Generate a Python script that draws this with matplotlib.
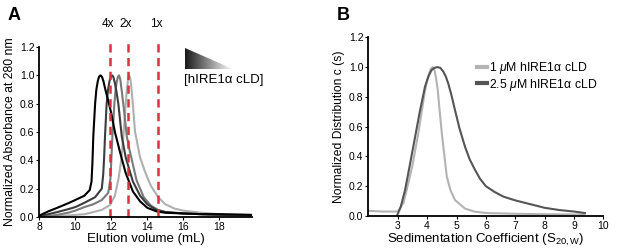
import numpy as np
import matplotlib
matplotlib.use('Agg')
import matplotlib.pyplot as plt
from matplotlib.patches import Polygon

plt.rcParams['font.family'] = ['Liberation Sans', 'DejaVu Sans']
plt.rcParams['mathtext.fontset'] = 'custom'
plt.rcParams['mathtext.rm'] = 'Liberation Sans'
plt.rcParams['mathtext.it'] = 'Liberation Sans:italic'

# panel A: size exclusion traces, highest to lowest concentration
black_x = [8.0, 8.5, 9.0, 9.6, 10.0, 10.5, 10.8, 10.9, 10.95, 11.0, 11.1, 11.17, 11.25, 11.32, 11.4,
           11.48, 11.56, 11.65, 11.87, 12.0, 12.2, 12.5, 12.8, 13.2, 13.6, 14.0, 14.5, 15.0, 16.0,
           17.0, 18.0, 19.8]
black_y = [0.01, 0.04, 0.065, 0.097, 0.12, 0.15, 0.19, 0.25, 0.38, 0.57, 0.8, 0.9, 0.96, 0.99, 1.0,
           0.99, 0.96, 0.91, 0.8, 0.73, 0.6, 0.45, 0.31, 0.18, 0.11, 0.065, 0.04, 0.03, 0.025,
           0.02, 0.02, 0.015]
dark_x = [8.0, 8.5, 9.0, 9.6, 10.0, 10.5, 11.1, 11.47, 11.55, 11.6, 11.65, 11.74, 11.82, 11.9, 11.97,
          12.04, 12.11, 12.19, 12.28, 12.39, 12.58, 12.8, 13.2, 13.6, 14.0, 14.5, 15.0, 16.0, 17.0,
          18.0, 19.8]
dark_y = [0.005, 0.02, 0.035, 0.055, 0.07, 0.1, 0.14, 0.2, 0.3, 0.42, 0.57, 0.8, 0.9, 0.96, 0.99,
          1.0, 0.99, 0.95, 0.89, 0.8, 0.57, 0.42, 0.25, 0.15, 0.09, 0.05, 0.035, 0.025, 0.02,
          0.015, 0.012]
mid_x = [8.0, 9.0, 9.6, 10.0, 10.5, 11.0, 11.47, 11.83, 11.95, 12.0, 12.06, 12.17, 12.24, 12.31, 12.37,
         12.43, 12.5, 12.58, 12.7, 12.86, 13.0, 13.4, 13.8, 14.2, 14.6, 15.0, 16.0, 17.0, 18.0, 19.8]
mid_y = [0.0, 0.015, 0.03, 0.045, 0.07, 0.09, 0.12, 0.17, 0.27, 0.4, 0.57, 0.8, 0.9, 0.96, 0.99,
         1.0, 0.97, 0.89, 0.76, 0.57, 0.48, 0.26, 0.14, 0.08, 0.05, 0.035, 0.025, 0.02, 0.015, 0.012]
light_x = [8.0, 9.0, 10.0, 10.54, 11.0, 11.47, 11.93, 12.2, 12.4, 12.55, 12.67, 12.8, 12.87, 12.93,
           12.99, 13.05, 13.11, 13.18, 13.32, 13.6, 13.9, 14.2, 14.6, 15.0, 15.5, 16.0, 17.0, 18.0, 19.8]
light_y = [0.0, 0.005, 0.015, 0.02, 0.035, 0.05, 0.085, 0.15, 0.27, 0.4, 0.57, 0.8, 0.91, 0.97,
           1.0, 0.98, 0.92, 0.82, 0.6, 0.42, 0.31, 0.22, 0.14, 0.09, 0.06, 0.045, 0.03, 0.02, 0.015]

marker_vols = [11.93, 12.9, 14.58]
marker_labels = ['4x', '2x', '1x']

# panel B: sedimentation velocity distributions
s_1uM = [2.0, 2.5, 3.0, 3.2, 3.36, 3.5, 3.7, 3.93, 4.0, 4.07, 4.13, 4.19, 4.25, 4.3, 4.36, 4.42,
         4.5, 4.67, 4.8, 4.95, 5.29, 5.6, 6.0, 7.0, 8.0, 9.35]
c_1uM = [0.035, 0.03, 0.03, 0.09, 0.22, 0.34, 0.555, 0.845, 0.91, 0.96, 0.99, 1.0, 0.98, 0.93, 0.85, 0.72,
         0.555, 0.264, 0.17, 0.107, 0.05, 0.03, 0.02, 0.015, 0.012, 0.01]
s_25uM = [2.97, 3.1, 3.25, 3.4, 3.59, 3.75, 3.93, 4.05, 4.15, 4.25, 4.35, 4.45, 4.55, 4.63, 4.72,
          4.83, 4.95, 5.1, 5.29, 5.45, 5.63, 5.8, 6.0, 6.31, 6.6, 7.0, 7.5, 8.0, 8.5, 9.0, 9.37]
c_25uM = [0.0, 0.06, 0.175, 0.33, 0.53, 0.7, 0.87, 0.94, 0.98, 0.995, 1.0, 0.995, 0.97, 0.94, 0.89,
          0.81, 0.71, 0.59, 0.465, 0.38, 0.31, 0.25, 0.2, 0.16, 0.13, 0.105, 0.08, 0.055, 0.04, 0.03, 0.02]

fig = plt.figure(figsize=(6.17, 2.49), dpi=100)

# ---- panel A
ax1 = fig.add_axes([0.0637, 0.1285, 0.3443, 0.6827])
for xs, ys, col in [(light_x, light_y, '#b0b0b0'), (mid_x, mid_y, '#7a7a7a'),
                    (dark_x, dark_y, '#3c3c3c'), (black_x, black_y, '#000000')]:
    ax1.plot(xs, ys, color=col, lw=1.5)
for v, lab in zip(marker_vols, marker_labels):
    ax1.axvline(v, ymin=0, ymax=1.04, color='#d8323c', lw=1.8, dashes=(3.3, 2.2), clip_on=False)
    ax1.text(v - 0.1, 1.36, lab, ha='center', va='center', fontsize=8.5)
ax1.set_xlim(8, 19.8)
ax1.set_ylim(0, 1.2)
ax1.set_xticks([8, 10, 12, 14, 16, 18])
ax1.set_yticks(np.arange(0, 1.21, 0.2))
ax1.set_yticklabels(['%.1f' % t for t in np.arange(0, 1.21, 0.2)])
ax1.set_xlabel('Elution volume (mL)', fontsize=9.5, labelpad=1)
ax1.set_ylabel('Normalized Absorbance at 280 nm', fontsize=8.8, labelpad=3)

# concentration wedge
wax = fig.add_axes([185 / 617, 1 - 69 / 249, 48 / 617, 21 / 249])
grad = np.linspace(0.1, 1.0, 200).reshape(1, -1)
im = wax.imshow(grad, cmap='gray', aspect='auto', extent=[0, 1, 0, 1], vmin=0, vmax=1)
tri = Polygon([[0, 0], [0, 1], [1, 0]], closed=True, transform=wax.transData)
im.set_clip_path(tri)
wax.set_xlim(0, 1)
wax.set_ylim(0, 1)
wax.axis('off')
fig.text(184 / 617, 1 - 80 / 249, '[hIRE1α cLD]', fontsize=9.5, va='center', ha='left')

# ---- panel B
ax2 = fig.add_axes([0.597, 0.1325, 0.381, 0.7175])
ax2.plot(s_1uM, c_1uM, color='#b3b3b3', lw=1.5, label=r'1 $\mu$M hIRE1α cLD')
ax2.plot(s_25uM, c_25uM, color='#555555', lw=1.5, label=r'2.5 $\mu$M hIRE1α cLD')
ax2.set_xlim(2, 10)
ax2.set_ylim(0, 1.2)
ax2.set_xticks(range(3, 11))
ax2.set_yticks(np.arange(0, 1.21, 0.2))
ax2.set_yticklabels(['%.1f' % t for t in np.arange(0, 1.21, 0.2)])
ax2.set_xlabel(r'Sedimentation Coefficient (S$_{\mathrm{20,W}}$)', fontsize=9.5, labelpad=1)
ax2.set_ylabel('Normalized Distribution c (s)', fontsize=8.7, labelpad=3)
ax2.legend(loc='upper left', bbox_to_anchor=(0.44, 0.9), frameon=False, fontsize=8.8,
           handlelength=0.85, handletextpad=0.15, labelspacing=0.05, borderaxespad=0)
for h in ax2.get_legend().get_lines():
    h.set_linewidth(3)

for ax in (ax1, ax2):
    for sp in ('top', 'right'):
        ax.spines[sp].set_visible(False)
    for sp in ('left', 'bottom'):
        ax.spines[sp].set_linewidth(1.3)
    ax.tick_params(labelsize=7.5, length=2, width=0.8, pad=1.5)

fig.text(8 / 617, 1 - 15 / 249, 'A', fontsize=13, fontweight='bold', va='center', ha='left')
fig.text(337 / 617, 1 - 15 / 249, 'B', fontsize=13, fontweight='bold', va='center', ha='left')

fig.savefig('out.png', dpi=100)
